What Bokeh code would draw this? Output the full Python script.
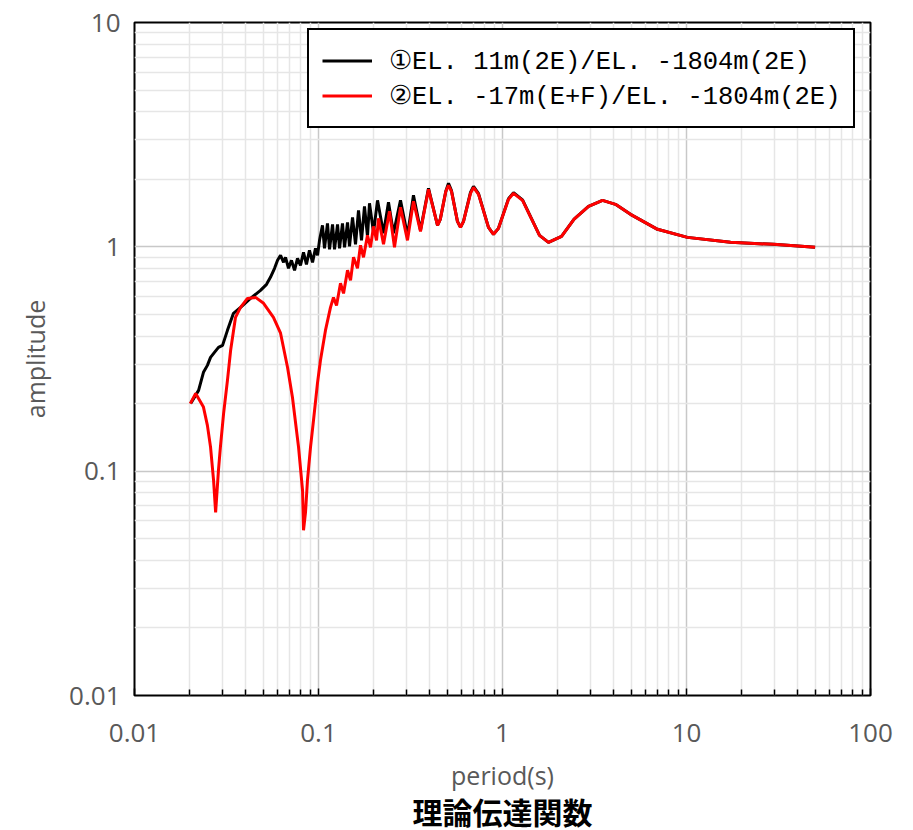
from bokeh.plotting import figure
from bokeh.models import (FixedTicker, CustomJSTickFormatter, Legend, LegendItem, Title)
from bokeh.embed import file_html
from bokeh.resources import INLINE

# ---- data (period [s], amplitude) ----
period_1 = [0.0202, 0.0223, 0.0237, 0.0249, 0.0259, 0.0272, 0.0286, 0.0301, 0.0320, 0.0345,
            0.0377, 0.0427, 0.0484, 0.0522, 0.0548, 0.0577, 0.0599, 0.0622, 0.0646, 0.0662,
            0.0687, 0.0713, 0.0741, 0.0769, 0.0798, 0.0829, 0.0860, 0.0893, 0.0928, 0.0963,
            0.0988, 0.1013, 0.1051, 0.1078, 0.1119, 0.1148, 0.1192, 0.1222, 0.1269, 0.1301,
            0.1350, 0.1385, 0.1438, 0.1474, 0.1531, 0.1589, 0.1650, 0.1713, 0.1778, 0.1846,
            0.1893, 0.1990, 0.2093, 0.2256, 0.2401, 0.2556, 0.2790, 0.3045, 0.3282, 0.3583,
            0.3961, 0.4434, 0.459, 0.492, 0.5088, 0.528, 0.569, 0.5911, 0.614, 0.670,
            0.6957, 0.741, 0.839, 0.8934, 0.951, 1.078, 1.148, 1.285, 1.589, 1.778,
            2.093, 2.45, 2.934, 3.496, 4.113, 4.963, 6.957, 10.12, 17.34, 29.72, 50.0]
amp_1 = [0.2005, 0.2292, 0.2757, 0.2962, 0.3216, 0.3385, 0.3563, 0.3638, 0.4243, 0.5053,
         0.5374, 0.5893, 0.6398, 0.6805, 0.7311, 0.802, 0.8706, 0.9165, 0.853, 0.898,
         0.802, 0.8706, 0.7856, 0.8886, 0.8271, 0.9451, 0.8355, 0.9647, 0.853, 0.9847,
         0.9165, 1.069, 1.247, 0.9847, 1.273, 0.9747, 1.26, 0.9747, 1.26, 0.9847,
         1.273, 0.995, 1.286, 1.005, 1.354, 1.026, 1.455, 1.069, 1.516, 1.114,
         1.563, 1.16, 1.612, 1.149, 1.579, 1.149, 1.612, 1.125, 1.697, 1.185,
         1.823, 1.247, 1.326, 1.768, 1.919, 1.78, 1.299, 1.221, 1.299, 1.75,
         1.86, 1.725, 1.221, 1.137, 1.209, 1.64, 1.745, 1.62, 1.125, 1.047,
         1.114, 1.33, 1.516, 1.612, 1.547, 1.396, 1.197, 1.102, 1.047, 1.026, 0.995]

period_2 = [0.0201, 0.0215, 0.0237, 0.0249, 0.0259, 0.0269, 0.0276, 0.0286, 0.0293, 0.0305,
            0.0320, 0.0333, 0.0354, 0.0377, 0.0411, 0.0455, 0.0503, 0.0569, 0.0622, 0.0679,
            0.0722, 0.0779, 0.0819, 0.0829, 0.0850, 0.0871, 0.0905, 0.0939, 0.0988, 0.1025,
            0.1091, 0.1162, 0.1206, 0.1253, 0.1317, 0.1368, 0.1438, 0.1493, 0.1550, 0.1629,
            0.1691, 0.1756, 0.1846, 0.1917, 0.1990, 0.2067, 0.2119, 0.2256, 0.2431, 0.2588,
            0.2790, 0.3045, 0.3282, 0.3583, 0.3961, 0.4434, 0.459, 0.492, 0.5088, 0.528,
            0.569, 0.5911, 0.614, 0.670, 0.6957, 0.741, 0.839, 0.8934, 0.951, 1.078,
            1.148, 1.285, 1.589, 1.778, 2.093, 2.45, 2.934, 3.496, 4.113, 4.963, 6.957,
            10.12, 17.34, 29.72, 50.0]
amp_2 = [0.200, 0.222, 0.193, 0.160, 0.128, 0.091, 0.0655, 0.101, 0.128, 0.181,
         0.254, 0.346, 0.485, 0.537, 0.589, 0.595, 0.560, 0.485, 0.412, 0.290,
         0.213, 0.128, 0.082, 0.0545, 0.0655, 0.091, 0.128, 0.168, 0.248, 0.312,
         0.424, 0.537, 0.595, 0.548, 0.688, 0.620, 0.786, 0.709, 0.898, 0.802,
         1.016, 0.898, 1.125, 0.995, 1.234, 1.069, 1.340, 1.026, 1.440, 0.995,
         1.500, 1.069, 1.595, 1.172, 1.805, 1.247, 1.326, 1.768, 1.880, 1.768,
         1.299, 1.221, 1.299, 1.732, 1.842, 1.714, 1.221, 1.137, 1.209, 1.628,
         1.732, 1.612, 1.125, 1.047, 1.114, 1.33, 1.516, 1.612, 1.547, 1.396, 1.197,
         1.102, 1.047, 1.026, 0.995]

label_1 = "①EL. 11m(2E)/EL. -1804m(2E)"
label_2 = "②EL. -17m(E+F)/EL. -1804m(2E)"

x_major = [0.01, 0.1, 1, 10, 100]
y_major = [0.01, 0.1, 1, 10]
x_minor = [m * d for d in [0.01, 0.1, 1, 10] for m in range(2, 10)]
y_minor = [m * d for d in [0.01, 0.1, 1] for m in range(2, 10)]

# ---- figure ----
p = figure(x_axis_type="log", y_axis_type="log",
           x_range=(0.01, 100), y_range=(0.01, 10),
           frame_width=736, frame_height=673,
           min_border_left=134, min_border_top=22,
           min_border_right=35, min_border_bottom=135,
           output_backend="svg", toolbar_location=None)
p.title.text = ""
p.background_fill_color = "white"
p.border_fill_color = "white"
p.outline_line_color = "black"
p.outline_line_width = 2
p.outline_line_alpha = 1

fmt = CustomJSTickFormatter(code="return String(tick)")
p.xaxis.ticker = FixedTicker(ticks=x_major, minor_ticks=x_minor)
p.yaxis.ticker = FixedTicker(ticks=y_major, minor_ticks=y_minor)
p.xaxis.formatter = fmt
p.yaxis.formatter = fmt

tick_font = "Open Sans"
for ax in (p.xaxis[0], p.yaxis[0]):
    ax.axis_line_color = None
    ax.major_label_text_font = tick_font
    ax.major_label_text_font_size = "26px"
    ax.major_label_text_color = "#595959"
    ax.axis_label_text_font = tick_font
    ax.axis_label_text_font_size = "25px"
    ax.axis_label_text_color = "#595959"
    ax.axis_label_text_font_style = "normal"

p.xaxis.axis_label = "period(s)"
p.yaxis.axis_label = "amplitude"
p.xaxis.major_tick_in = 7
p.xaxis.major_tick_out = 0
p.xaxis.minor_tick_in = 6
p.xaxis.minor_tick_out = 0
p.xaxis.major_tick_line_color = "black"
p.xaxis.minor_tick_line_color = "black"
p.xaxis.major_tick_line_width = 1.5
p.xaxis.minor_tick_line_width = 1.5
p.xaxis.major_label_standoff = 28
p.xaxis.axis_label_standoff = 13
p.yaxis.major_tick_in = 0
p.yaxis.major_tick_out = 0
p.yaxis.minor_tick_in = 0
p.yaxis.minor_tick_out = 0
p.yaxis.major_label_standoff = 14
p.yaxis.axis_label_standoff = 14

for g in (p.xgrid[0], p.ygrid[0]):
    g.grid_line_color = "#c8c8c8"
    g.grid_line_width = 1.5
    g.minor_grid_line_color = "#e6e6e6"
    g.minor_grid_line_width = 1.5

r1 = p.line(period_1, amp_1, line_color="black", line_width=3)
r2 = p.line(period_2, amp_2, line_color="#ff0000", line_width=3)

legend = Legend(items=[LegendItem(label=label_1, renderers=[r1]),
                       LegendItem(label=label_2, renderers=[r2])],
                location=(173, 567),
                border_line_color="black", border_line_width=2, border_line_alpha=1,
                background_fill_color="white", background_fill_alpha=1,
                label_text_font="Liberation Mono", label_text_font_size="25.5px",
                label_text_color="black",
                glyph_width=50, glyph_height=35, label_height=35,
                spacing=0, padding=13, label_standoff=17, margin=0)
p.add_layout(legend)

p.add_layout(Title(text="理論伝達関数", align="center",
                   text_font="Liberation Sans, Noto Sans CJK JP",
                   text_font_size="30px", text_font_style="bold", text_color="black",
                   standoff=0),
             "below")

open("out.html", "w").write(file_html(p, INLINE))
